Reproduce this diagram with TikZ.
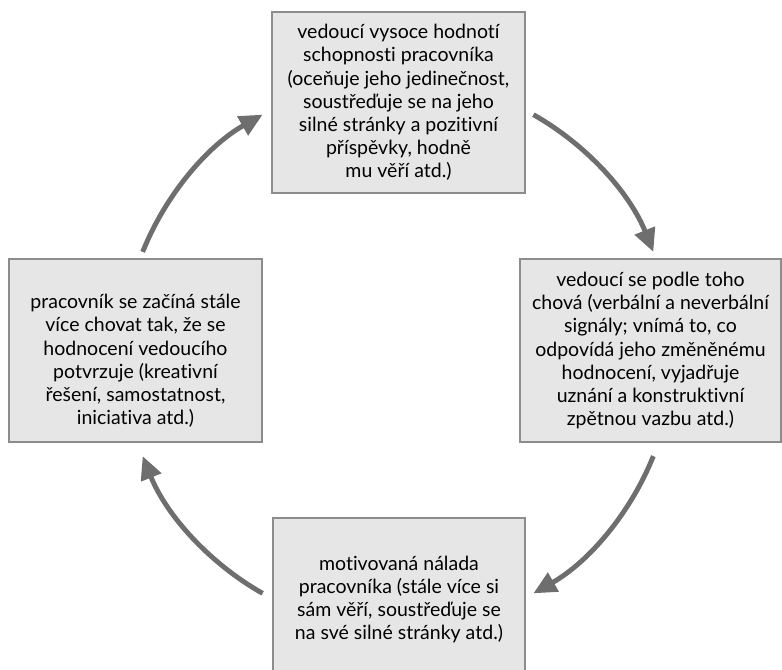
\documentclass[tikz,border=0pt]{standalone}
\usepackage{fontspec}
\setmainfont[Ligatures=NoCommon]{Lato}
\usepackage{xcolor}
\usetikzlibrary{arrows.meta}
\definecolor{boxfill}{HTML}{E6E6E6}
\definecolor{boxline}{HTML}{8C8C8C}
\definecolor{flowgray}{HTML}{6E6E6E}

\begin{document}
\begin{tikzpicture}[x=0.02cm, y=-0.02cm, main node/.style={draw=boxline, fill=boxfill, line width=0.7pt, inner sep=0pt, align=center, font=\fontsize{11.1}{13.2}\selectfont}, flow/.style={draw=flowgray, line width=2.8pt, -{Triangle[length=0.46cm,width=0.42cm]}}]
    \useasboundingbox (0,0) rectangle (782,670);

    \node[main node, minimum width=5.06cm, minimum height=3.62cm] (1) at (398.5,102.5) {vedoucí vysoce hodnotí\\schopnosti pracovníka\\(oceňuje jeho jedinečnost,\\soustřeďuje se na jeho\\silné stránky a pozitivní\\příspěvky, hodně\\mu věří atd.)};
    \node[main node, minimum width=5.22cm, minimum height=3.66cm] (2) at (650.5,350.5) {vedoucí se podle toho\\chová (verbální a neverbální\\signály; vnímá to, co\\odpovídá jeho změněnému\\hodnocení, vyjadřuje\\uznání a konstruktivní\\zpětnou vazbu atd.)};
    \node[main node, minimum width=5.04cm, minimum height=3.26cm] (3) at (399,599.5) {motivovaná nálada\\pracovníka (stále více si\\sám věří, soustřeďuje se\\na své silné stránky atd.)};
    \node[main node, minimum width=5.06cm, minimum height=3.66cm] (4) at (135.5,350.5) {};
    \node[align=center, inner sep=0pt, font=\fontsize{11.1}{13.2}\selectfont] (4t) at ([yshift=-0.21cm]4.center) {pracovník se začíná stále\\více chovat tak, že se\\hodnocení vedoucího\\potvrzuje (kreativní\\řešení, samostatnost,\\iniciativa atd.)};

    % cycle arrows on one circle
    \coordinate (c) at (398,354);
    \coordinate (a1) at ([shift={(-60.5:275)}]c);
    \coordinate (a2) at ([shift={(21.8:275)}]c);
    \coordinate (a3) at ([shift={(119.5:275)}]c);
    \coordinate (a4) at ([shift={(201.8:275)}]c);

    \draw[flow] (a1) arc[start angle=-60.5, end angle=-21.8, radius=275];
    \draw[flow] (a2) arc[start angle=21.8, end angle=60.5, radius=275];
    \draw[flow] (a3) arc[start angle=119.5, end angle=158.2, radius=275];
    \draw[flow] (a4) arc[start angle=201.8, end angle=240.5, radius=275];
\end{tikzpicture}
\end{document}
